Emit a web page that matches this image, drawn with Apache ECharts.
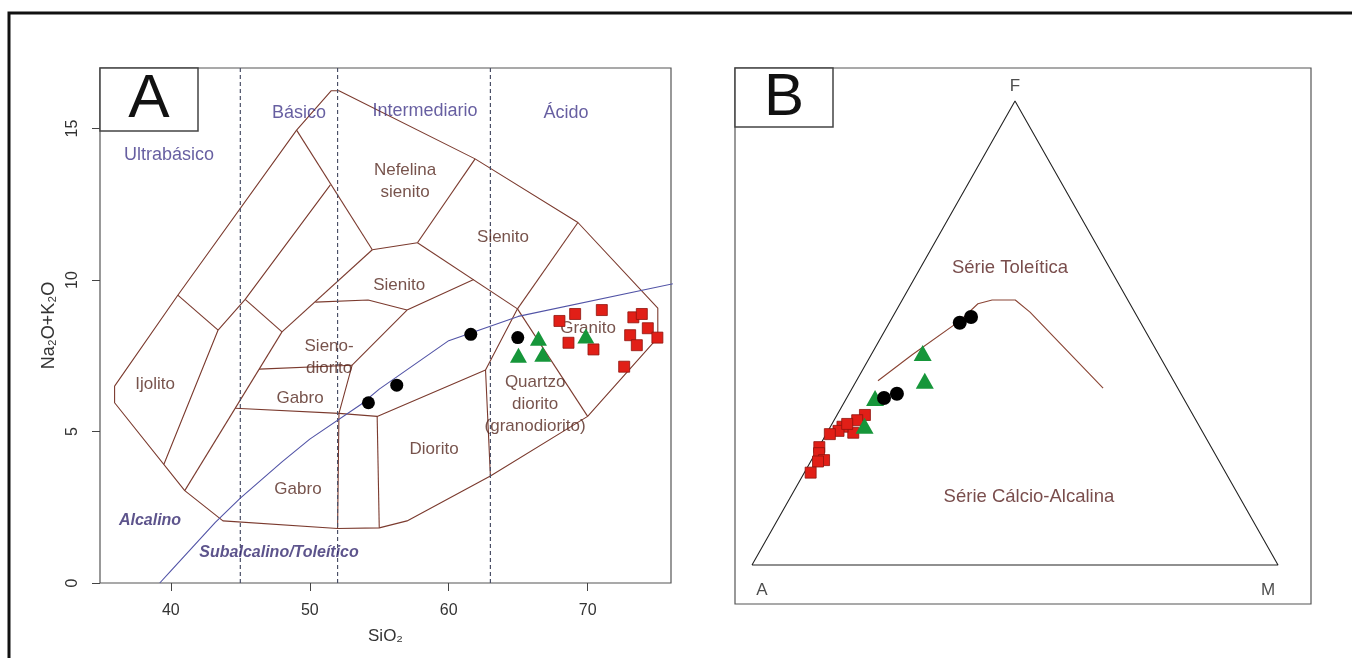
<!DOCTYPE html>
<html><head><meta charset="utf-8">
<script src="https://cdn.jsdelivr.net/npm/echarts@6/dist/echarts.min.js"></script>
<style>html,body{margin:0;padding:0;background:#fff}#c{width:1352px;height:658px}</style>
</head><body><div id="c"></div><script>
// ---------- Panel A : TAS (SiO2 vs Na2O+K2O) ----------
const xTicks = [40, 50, 60, 70];
const yTicks = [0, 5, 10, 15];
const divisionSiO2 = [45, 52, 63];
// Irvine & Baragar alkaline / subalkaline divide
const ibSiO2 = [39.2, 40, 43.2, 45, 48, 50, 53.7, 55, 60, 65, 77.4];
const ibAlk  = [0, 0.4, 2, 2.8, 4, 4.75, 5.9, 6.4, 8, 8.8, 10];
// field boundaries [SiO2, Na2O+K2O]
const fieldOuter = [[35.95,6.5],[40.5,9.5],[49.05,14.95],[51.55,16.25],[52.1,16.25],[61.9,14.0],[69.3,11.9],[75.05,9.07],[75.05,8.1],[70.0,5.5],[63.0,3.53],[57.0,2.05],[55.0,1.82],[52.0,1.8],[43.75,2.05],[41.0,3.05],[35.95,5.95],[35.95,6.5]];
const fieldInner = [
  [[40.5,9.5],[43.4,8.35]],
  [[39.5,3.92],[43.4,8.35],[45.35,9.36],[51.48,13.14]],
  [[45.35,9.36],[48.0,8.29]],
  [[48.0,8.29],[41.0,3.05]],
  [[48.0,8.29],[54.5,11.0]],
  [[49.05,14.95],[54.5,11.0]],
  [[54.5,11.0],[57.75,11.23]],
  [[57.75,11.23],[61.9,14.0]],
  [[57.75,11.23],[64.95,9.05]],
  [[69.3,11.9],[64.95,9.05]],
  [[64.95,9.05],[62.65,7.03],[63.0,3.53]],
  [[64.95,9.05],[70.0,5.5]],
  [[50.4,9.27],[54.2,9.34],[57.0,9.01]],
  [[57.0,9.01],[61.8,10.02]],
  [[57.0,9.01],[53.05,7.19],[52.1,5.6],[52.0,1.8]],
  [[46.35,7.06],[53.05,7.19]],
  [[44.63,5.77],[52.1,5.6]],
  [[52.1,5.6],[54.85,5.5],[62.65,7.03]],
  [[54.85,5.5],[55.0,1.82]]
];
const tasBlack = [[54.22,5.95],[56.26,6.53],[61.59,8.21],[64.97,8.10]];
const tasGreen = [[65.02,7.52],[66.46,8.08],[66.77,7.55],[69.87,8.15]];
const tasRed = [[67.97,8.65],[69.10,8.88],[71.02,9.01],[68.62,7.93],[70.42,7.71],[73.29,8.77],[73.90,8.88],[74.33,8.41],[73.06,8.18],[73.54,7.85],[75.02,8.10],[72.63,7.14]];
const rangeLabels = [[39.87,14.13,'Ultrabásico'],[49.23,15.52,'Básico'],[58.3,15.58,'Intermediario'],[68.45,15.52,'Ácido']];
const fieldLabels = [[56.86,13.27,'Nefelina\nsienito'],[63.91,11.42,'Sienito'],[56.43,9.84,'Sienito'],[51.39,7.46,'Sieno-\ndiorito'],[38.86,6.57,'Ijolito'],[49.3,6.11,'Gabro'],[49.15,3.10,'Gabro'],[58.95,4.42,'Diorito'],[66.22,5.91,'Quartzo\ndiorito\n(granodiorito)'],[70.03,8.42,'Granito']];
const seriesLabels = [[38.5,2.05,'Alcalino'],[47.79,1.02,'Subalcalino/Toleítico']];

// ---------- Panel B : AFM ternary [A, F, M] ----------
const afmVertices = [[100,0,0],[0,0,100],[0,100,0],[100,0,0]];
const afmCurve = [[56.2,39.7,4.1],[46.9,45.3,7.8],[34.2,52.6,13.2],[28.9,56.3,14.8],[25.8,57.1,17.1],[21.4,57.1,21.5],[19.9,54.5,25.6],[14.2,38.1,47.7]];
const afmBlack = [[34.4,52.2,13.4],[31.6,53.4,14.9],[56.9,36.0,7.1],[54.0,36.9,9.1]];
const afmGreen = [[44.7,45.7,9.6],[47.3,39.7,13.0],[58.6,36.0,5.4],[63.6,30.0,6.4]];
const afmRed = [[62.3,32.3,5.3],[64.4,31.2,4.4],[66.5,28.5,5.0],[67.9,29.8,2.3],[69.1,28.9,2.0],[66.7,30.4,2.9],[71.1,28.2,0.7],[74.5,25.4,0.1],[75.2,24.1,0.7],[75.0,22.6,2.4],[76.3,22.3,1.4],[78.9,19.9,1.2]];
const afmVertexLabels = [['F',[0,100,0]],['A',[100,0,0]],['M',[0,0,100]]];
const afmLabels = [[[18.95,64.0,17.05],'Série Toleítica'],[[40.0,14.7,45.3],'Série Cálcio-Alcalina']];

function tern(p){ const s=p[0]+p[1]+p[2]; const f=p[1]/s, m=p[2]/s; return [m+f/2, f]; }

const FONT = 'Liberation Sans, Arial, sans-serif';
const brown = '#7b3a2e';
const labelBrown = '#55281f';
const purple = '#41378a';

const series = [];
series.push({type:'line', xAxisIndex:0, yAxisIndex:0, data:fieldOuter, symbol:'none', silent:true,
  lineStyle:{color:brown,width:1.1}});
fieldInner.forEach(l=>series.push({type:'line', xAxisIndex:0, yAxisIndex:0, data:l, symbol:'none', silent:true,
  lineStyle:{color:brown,width:1.1}}));
divisionSiO2.forEach(v=>series.push({type:'line', xAxisIndex:0, yAxisIndex:0, data:[[v,0],[v,17]], symbol:'none', silent:true,
  lineStyle:{color:'#4a4f66',width:1.2,type:[4,3]}}));
series.push({type:'line', xAxisIndex:0, yAxisIndex:0, data:ibSiO2.map((x,i)=>[x,ibAlk[i]]), symbol:'none', silent:true, clip:true,
  lineStyle:{color:'#5153a6',width:1.1}});
function txtSeries(arr, xi, style){
  return {type:'scatter', xAxisIndex:xi, yAxisIndex:xi, symbolSize:0, silent:true, z:5,
    data:arr.map(a=>({value:[a[0],a[1]], name:a[2]})),
    label:Object.assign({show:true, position:'inside', formatter:p=>p.name, fontFamily:FONT}, style)};
}
series.push(txtSeries(rangeLabels,0,{fontSize:18,color:purple}));
series.push(txtSeries(fieldLabels,0,{fontSize:17,color:labelBrown,lineHeight:22}));
series.push(txtSeries(seriesLabels,0,{fontSize:16,color:'#34296f',fontWeight:'bold',fontStyle:'italic'}));
series.push({type:'scatter', xAxisIndex:0, yAxisIndex:0, data:tasBlack, symbol:'circle', symbolSize:13, itemStyle:{color:'#000',opacity:1}, z:6});
series.push({type:'scatter', xAxisIndex:0, yAxisIndex:0, data:tasGreen, symbol:'triangle', symbolSize:[17,15], itemStyle:{color:'#16963a',opacity:1}, z:6});
series.push({type:'scatter', xAxisIndex:0, yAxisIndex:0, data:tasRed, symbol:'rect', symbolSize:11, itemStyle:{color:'#e11f17',borderColor:'#8f140e',borderWidth:0.8,opacity:1}, z:6});

// Panel B
series.push({type:'line', xAxisIndex:1, yAxisIndex:1, data:afmVertices.map(tern), symbol:'none', silent:true, lineStyle:{color:'#222',width:1.1}});
series.push({type:'line', xAxisIndex:1, yAxisIndex:1, data:afmCurve.map(tern), symbol:'none', silent:true, lineStyle:{color:'#8a4434',width:1.1}});
series.push({type:'scatter', xAxisIndex:1, yAxisIndex:1, symbolSize:0, silent:true,
  data:afmVertexLabels.map(v=>({value:tern(v[1]), name:v[0]})),
  label:{show:true, formatter:p=>p.name, fontFamily:FONT, fontSize:17, color:'#222',
    position:'inside'},
  labelLayout:p=>{ const n=p.text; if(n==='F') return {dy:-15}; if(n==='A') return {dx:10, dy:25}; return {dx:-10, dy:25}; }});
series.push({type:'scatter', xAxisIndex:1, yAxisIndex:1, symbolSize:0, silent:true,
  data:afmLabels.map(v=>({value:tern(v[0]), name:v[1]})),
  label:{show:true, position:'inside', formatter:p=>p.name, fontFamily:FONT, fontSize:18.5, color:'#58201f'}});
series.push({type:'scatter', xAxisIndex:1, yAxisIndex:1, data:afmRed.map(tern), symbol:'rect', symbolSize:11, itemStyle:{color:'#e11f17',borderColor:'#8f140e',borderWidth:0.8,opacity:1}, z:6});
series.push({type:'scatter', xAxisIndex:1, yAxisIndex:1, data:afmGreen.map(tern), symbol:'triangle', symbolSize:[18,16], itemStyle:{color:'#16963a',opacity:1}, z:7});
series.push({type:'scatter', xAxisIndex:1, yAxisIndex:1, data:afmBlack.map(tern), symbol:'circle', symbolSize:14, itemStyle:{color:'#000',opacity:1}, z:8});

const chart = echarts.init(document.getElementById('c'), null, {renderer:'canvas'});
chart.setOption({
  backgroundColor:'#fff',
  animation:false,
  grid:[
    {left:100, top:68, width:571, height:515, show:true, borderColor:'#555', borderWidth:1.2, backgroundColor:'#fff'},
    {left:735, top:68, width:576, height:536, show:true, borderColor:'#555', borderWidth:1.2, backgroundColor:'#fff'}
  ],
  xAxis:[
    {type:'value', gridIndex:0, min:34.9, max:76.0, name:'SiO₂', nameLocation:'middle', nameGap:45,
     nameTextStyle:{fontFamily:FONT,fontSize:17,color:'#333'},
     axisLine:{show:false}, splitLine:{show:false},
     axisTick:{show:true, length:8, customValues:xTicks, lineStyle:{color:'#444'}},
     axisLabel:{customValues:xTicks, fontFamily:FONT, fontSize:16, color:'#333', margin:20}},
    {type:'value', gridIndex:1, min:-0.0323, max:1.0627, show:false}
  ],
  yAxis:[
    {type:'value', gridIndex:0, min:0, max:17, name:'Na₂O+K₂O', nameLocation:'middle', nameGap:42, nameRotate:90,
     nameTextStyle:{fontFamily:FONT,fontSize:18,color:'#333'},
     axisLine:{show:false}, splitLine:{show:false},
     axisTick:{show:true, length:8, customValues:yTicks, lineStyle:{color:'#444'}},
     axisLabel:{customValues:yTicks, rotate:90, fontFamily:FONT, fontSize:16, color:'#333', margin:19}},
    {type:'value', gridIndex:1, min:-0.0841, max:1.0711, show:false}
  ],
  graphic:[
    {type:'rect', shape:{x:9,y:13,width:1400,height:700}, style:{fill:null, stroke:'#111', lineWidth:3}, silent:true},
    {type:'rect', shape:{x:100,y:68,width:98,height:63}, style:{fill:'#fff', stroke:'#444', lineWidth:1.5}, z:100},
    {type:'text', x:149, y:100, style:{text:'A', fontFamily:FONT, fontSize:62, fill:'#111', align:'center', verticalAlign:'middle'}, z:101},
    {type:'rect', shape:{x:735,y:68,width:98,height:59}, style:{fill:'#fff', stroke:'#444', lineWidth:1.5}, z:100},
    {type:'text', x:784, y:98, style:{text:'B', fontFamily:FONT, fontSize:60, fill:'#111', align:'center', verticalAlign:'middle'}, z:101}
  ],
  series
});
</script></body></html>
